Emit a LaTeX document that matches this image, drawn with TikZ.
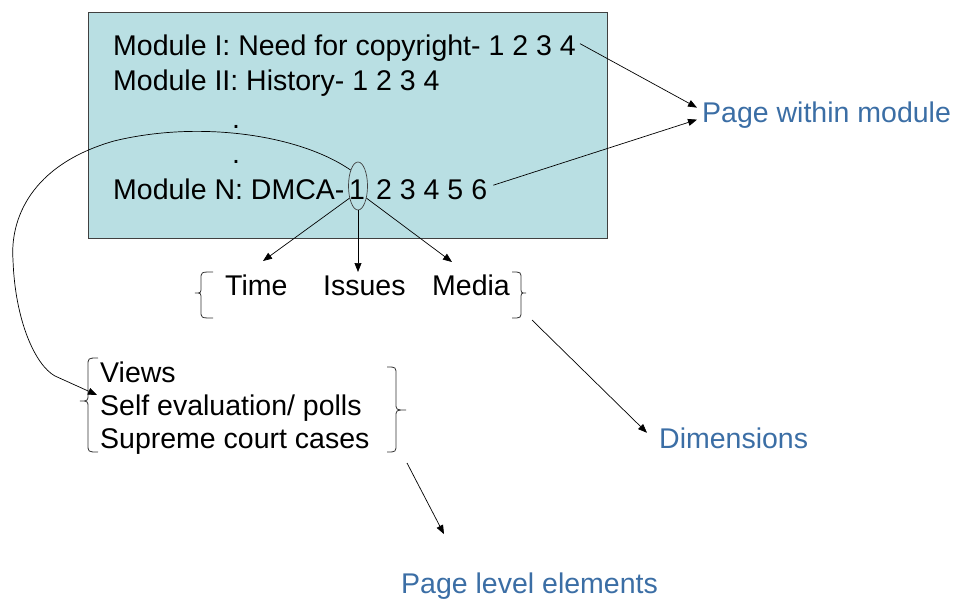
\documentclass[tikz,border=0pt]{standalone}
\usepackage{fontspec}
\setmainfont{Liberation Sans}
\usetikzlibrary{arrows.meta,shapes.geometric}
\definecolor{boxfill}{RGB}{185,223,227}
\definecolor{lblue}{RGB}{59,110,165}
\begin{document}
\begin{tikzpicture}[x=1pt,y=-1pt,
  txt/.style={anchor=base west,inner sep=0pt,font=\fontsize{28.5}{34}\selectfont},
  btxt/.style={txt,text=lblue},
  conn/.style={draw=black,line width=0.7pt,-{Triangle[length=9pt,width=7pt]}},
  brc/.style={draw=black!80,line width=0.8pt},
  ]
\useasboundingbox (0,0) rectangle (956,599);
% main box
\node[draw=black!75,line width=1pt,fill=boxfill,minimum width=519pt,minimum height=226pt,anchor=north west,inner sep=0pt] (box) at (88,12) {};
% box text
\node[txt] (m1) at (113,56) {Module I: Need for copyright- 1 2 3 4};
\node[txt] (m2) at (113,91) {Module II: History- 1 2 3 4};
\node[txt] (d1) at (232,129) {.};
\node[txt] (d2) at (232,164) {.};
\node[txt] (mn) at (113,200) {Module N: DMCA-};
\node[txt] (one) at (349,200) {1};
\node[txt] (rest) at (376,200) {2 3 4 5 6};
\node[draw=black!75,line width=0.7pt,ellipse,minimum width=19pt,minimum height=48pt,inner sep=0pt] (ell) at (358,186) {};
% dimensions
\node[txt] (time) at (225,295) {Time};
\node[txt] (issues) at (323,295) {Issues};
\node[txt] (media) at (432,295) {Media};
% page elements
\node[txt] (views) at (100,382) {Views};
\node[txt] (self) at (100,415) {Self evaluation/ polls};
\node[txt] (sup) at (100,448) {Supreme court cases};
% blue labels
\node[btxt] (pwm) at (702,123) {Page within module};
\node[btxt] (dim) at (659,448) {Dimensions};
\node[btxt] (ple) at (401,593) {Page level elements};
% braces
\draw[brc] (213,272) .. controls (201,272) .. (201,279) -- (201,287) .. controls (201,293) .. (195,293) .. controls (201,293) .. (201,299) -- (201,311) .. controls (201,318) .. (213,318);
\draw[brc] (512,272) .. controls (521,272) .. (521,279) -- (521,287) .. controls (521,293) .. (526,293) .. controls (521,293) .. (521,299) -- (521,311) .. controls (521,318) .. (512,318);
\draw[brc] (98,358) .. controls (88,358) .. (88,366) -- (88,394) .. controls (88,401) .. (80,401) .. controls (88,401) .. (88,408) -- (88,444) .. controls (88,452) .. (98,452);
\draw[brc] (387,367) .. controls (396,367) .. (396,375) -- (396,403) .. controls (396,410) .. (406,410) .. controls (396,410) .. (396,417) -- (396,444) .. controls (396,452) .. (387,452);
% connector coordinates
\coordinate (tipTime) at (263,261);
\coordinate (tipIssues) at (358,272);
\coordinate (tipMedia) at (452,262);
\coordinate (tipViews) at (97,395);
\coordinate (medBr) at (532,320);
\coordinate (listBr) at (407,463);
% connectors
\draw[conn] ([shift={(4,-5)}]m1.east) -- ([shift={(-5,-8)}]pwm.west);
\draw[conn] ([shift={(6,-5)}]rest.east) -- ([shift={(-5,4)}]pwm.west);
\draw[conn] (ell.235) -- (tipTime);
\draw[conn] (ell.south) -- (tipIssues);
\draw[conn] (ell.-55) -- (tipMedia);
\draw[conn] (medBr) -- ([shift={(-12,-5)}]dim.west);
\draw[conn] (listBr) -- ([shift={(43,-38)}]ple.north west);
\draw[conn] (ell.115) .. controls (300,135) and (200,120) .. (114,141) .. controls (30,165) and (10,220) .. (13,260) .. controls (15,320) and (35,365) .. (55,376) -- (tipViews);
\end{tikzpicture}
\end{document}
